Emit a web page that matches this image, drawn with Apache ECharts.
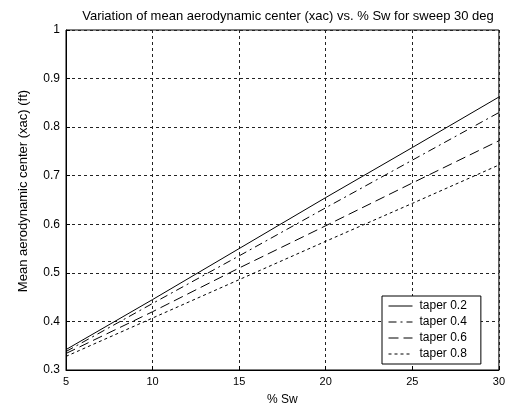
<!DOCTYPE html>
<html><head><meta charset="utf-8">
<script src="https://cdn.jsdelivr.net/npm/echarts@6/dist/echarts.min.js"></script>
<style>html,body{margin:0;padding:0;background:#fff}#c{width:508px;height:411px}</style>
</head><body><div id="c"></div>
<script>
const sw = [5, 10, 15, 20, 25, 30];
const taper02 = [0.342, 0.445, 0.550, 0.655, 0.758, 0.862];
const taper04 = [0.338, 0.437, 0.535, 0.634, 0.732, 0.830];
const taper06 = [0.334, 0.420, 0.510, 0.597, 0.685, 0.772];
const taper08 = [0.328, 0.407, 0.486, 0.565, 0.643, 0.722];
const names = ['taper 0.2', 'taper 0.4', 'taper 0.6', 'taper 0.8'];
const xTicks = [5, 10, 15, 20, 25, 30];
const yTicks = [0.3, 0.4, 0.5, 0.6, 0.7, 0.8, 0.9, 1];

const font = 'Liberation Sans, Arial, sans-serif';
const dashes = ['solid', [8, 4, 2, 4], [10, 5], [3, 3]];
const seriesData = [taper02, taper04, taper06, taper08];
const chart = echarts.init(document.getElementById('c'));
chart.setOption({
  animation: false,
  backgroundColor: '#fff',
  title: {
    text: 'Variation of mean aerodynamic center (xac) vs. % Sw for sweep 30 deg',
    left: 283, top: 5, textAlign: 'center',
    textStyle: {fontFamily: font, fontSize: 13, fontWeight: 'normal', color: '#000'}
  },
  grid: {left: 66, right: 6, top: 30, bottom: 41, show: true, borderColor: '#000', borderWidth: 1},
  legend: {
    orient: 'vertical', left: 382, top: 296,
    backgroundColor: '#fff', borderColor: '#000', borderWidth: 1,
    padding: [4, 14, 4, 6], itemWidth: 24, itemHeight: 10, itemGap: 4,
    itemStyle: {opacity: 0},
    lineStyle: {width: 1},
    textStyle: {fontFamily: font, fontSize: 12, color: '#000', padding: [0, 0, 0, 2]},
    data: names
  },
  xAxis: {
    type: 'value', min: 5, max: 30, interval: 5,
    name: '% Sw', nameLocation: 'middle', nameGap: 24,
    nameTextStyle: {fontFamily: font, fontSize: 12, color: '#000'},
    axisLine: {lineStyle: {color: '#000'}},
    axisTick: {inside: true, length: 4, lineStyle: {color: '#000'}},
    axisLabel: {fontFamily: font, fontSize: 11, color: '#000', margin: 6,
      formatter: v => xTicks.includes(v) ? String(v) : ''},
    splitLine: {show: true, lineStyle: {color: '#222', type: [3, 3], width: 1}}
  },
  yAxis: {
    type: 'value', min: 0.3, max: 1, interval: 0.1,
    name: 'Mean aerodynamic center (xac) (ft)', nameLocation: 'middle', nameGap: 36,
    nameTextStyle: {fontFamily: font, fontSize: 13, color: '#000', padding: [0, 0, 0, 18]},
    axisLine: {lineStyle: {color: '#000'}},
    axisTick: {inside: true, length: 4, lineStyle: {color: '#000'}},
    axisLabel: {fontFamily: font, fontSize: 12, color: '#000', margin: 6,
      formatter: v => { const r = Math.round(v * 10) / 10; return yTicks.includes(r) ? String(r) : ''; }},
    splitLine: {show: true, lineStyle: {color: '#222', type: [3, 3], width: 1}}
  },
  series: seriesData.map((d, i) => ({
    name: names[i], type: 'line', symbol: 'none',
    data: sw.map((x, j) => [x, d[j]]),
    lineStyle: {color: '#000', width: 1, type: dashes[i]},
    itemStyle: {color: '#000'}
  }))
});
</script></body></html>
